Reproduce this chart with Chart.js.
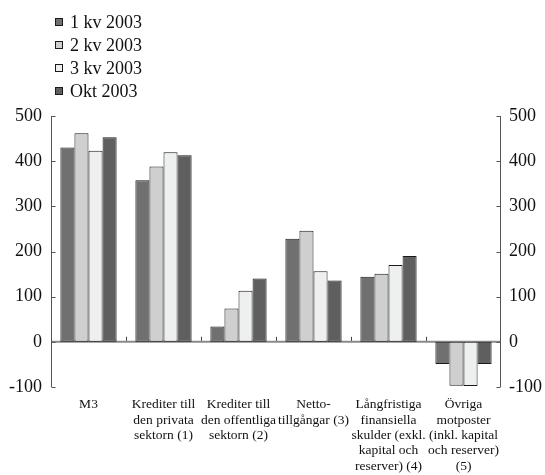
<!DOCTYPE html>
<html>
<head>
<meta charset="utf-8">
<script src="https://cdn.jsdelivr.net/npm/chart.js@4/dist/chart.umd.min.js"></script>
<style>
  html, body { margin: 0; padding: 0; background: #fff; }
  #c { display: block; }
</style>
</head>
<body>
<canvas id="c" width="545" height="475"></canvas>
<script>
// Categories (multi-line labels)
const categories = [
  ["M3"],
  ["Krediter till", "den privata", "sektorn (1)"],
  ["Krediter till", "den offentliga", "sektorn (2)"],
  ["Netto-", "tillgångar (3)"],
  ["Långfristiga", "finansiella", "skulder (exkl.", "kapital och", "reserver) (4)"],
  ["Övriga", "motposter", "(inkl. kapital", "och reserver)", "(5)"]
];

// Series
const seriesNames = ["1 kv 2003", "2 kv 2003", "3 kv 2003", "Okt 2003"];
const q1_2003 = [430, 358, 34, 228, 144, -49];
const q2_2003 = [462, 388, 74, 246, 151, -97];
const q3_2003 = [423, 420, 113, 156, 170, -98];
const okt_2003 = [453, 413, 140, 136, 190, -49];

// Axis range
const yMin = -100;
const yMax = 500;
const yStep = 100;

const fills = ["#707070", "#cfcfcf", "#eef0ef", "#5f5f5f"];
const serif = "'Liberation Serif', 'Times New Roman', serif";

const seriesValues = [q1_2003, q2_2003, q3_2003, okt_2003];
const datasets = seriesNames.map((name, i) => ({
  label: name,
  data: seriesValues[i],
  backgroundColor: fills[i],
  borderColor: "#1a1a1a",
  borderWidth: 1,
  borderSkipped: false,
  yAxisID: "y",
  categoryPercentage: 0.75,
  barPercentage: 1.0
}));

// Axis lines with inward ticks, zero line with category separators, and the legend
const decorations = {
  id: "decorations",
  beforeDatasetsDraw(chart) {
    const { ctx, chartArea, scales } = chart;
    const y = scales.y, x = scales.x;
    const y0 = y.getPixelForValue(0);
    ctx.save();
    // zero line
    ctx.strokeStyle = "#8a8a8a";
    ctx.lineWidth = 2;
    ctx.beginPath();
    ctx.moveTo(chartArea.left, y0);
    ctx.lineTo(chartArea.right, y0);
    ctx.stroke();
    // separators between categories
    ctx.strokeStyle = "#444";
    ctx.lineWidth = 1;
    const n = chart.data.labels.length;
    for (let k = 1; k < n; k++) {
      const px = Math.round((x.getPixelForValue(k - 1) + x.getPixelForValue(k)) / 2) + 0.5;
      ctx.beginPath();
      ctx.moveTo(px, y0 - 1);
      ctx.lineTo(px, y0 - 5);
      ctx.stroke();
    }
    ctx.restore();
  },
  afterDraw(chart) {
    const { ctx, chartArea, scales } = chart;
    const y = scales.y;
    ctx.save();
    ctx.strokeStyle = "#555";
    ctx.lineWidth = 1;
    const L = Math.round(chartArea.left) + 0.5;
    const R = Math.round(chartArea.right) - 0.5;
    const top = y.getPixelForValue(yMax);
    const bot = y.getPixelForValue(yMin);
    ctx.beginPath();
    ctx.moveTo(L, top); ctx.lineTo(L, bot);
    ctx.moveTo(R, top); ctx.lineTo(R, bot);
    for (let v = yMin; v <= yMax; v += yStep) {
      const py = Math.round(y.getPixelForValue(v)) + 0.5;
      ctx.moveTo(L, py); ctx.lineTo(L + 4, py);
      ctx.moveTo(R, py); ctx.lineTo(R - 4, py);
    }
    ctx.stroke();

    // legend
    ctx.font = "18px " + serif;
    ctx.textBaseline = "middle";
    ctx.textAlign = "left";
    chart.data.datasets.forEach((ds, i) => {
      const cy = 22 + i * 23;
      ctx.fillStyle = ds.backgroundColor;
      ctx.fillRect(55, cy - 4, 7, 7);
      ctx.strokeStyle = "#1a1a1a";
      ctx.strokeRect(55.5, cy - 3.5, 7, 7);
      ctx.fillStyle = "#111";
      ctx.fillText(ds.label, 70, cy + 1);
    });
    ctx.restore();
  }
};

new Chart(document.getElementById("c"), {
  type: "bar",
  data: { labels: categories, datasets },
  options: {
    responsive: false,
    animation: false,
    devicePixelRatio: 1,
    layout: { padding: { top: 116, left: 0, right: 0, bottom: 0 } },
    plugins: { legend: { display: false }, tooltip: { enabled: false } },
    scales: {
      x: {
        grid: { display: false, drawTicks: false },
        border: { display: false },
        ticks: {
          autoSkip: false,
          maxRotation: 0,
          minRotation: 0,
          padding: 10,
          color: "#111",
          font: { family: serif, size: 13.5, lineHeight: 1.14 }
        },
        afterFit(scale) { scale.height = 88; }
      },
      y: {
        position: "left",
        min: yMin, max: yMax,
        grid: { display: false, drawTicks: false },
        border: { display: false },
        ticks: { stepSize: yStep, padding: 9, color: "#111", font: { family: serif, size: 18 } },
        afterFit(scale) { scale.width = 51; }
      },
      y2: {
        position: "right",
        min: yMin, max: yMax,
        grid: { display: false, drawTicks: false },
        border: { display: false },
        ticks: { stepSize: yStep, padding: 8, color: "#111", font: { family: serif, size: 18 } },
        afterFit(scale) { scale.width = 44; }
      }
    }
  },
  plugins: [decorations]
});
</script>
</body>
</html>
